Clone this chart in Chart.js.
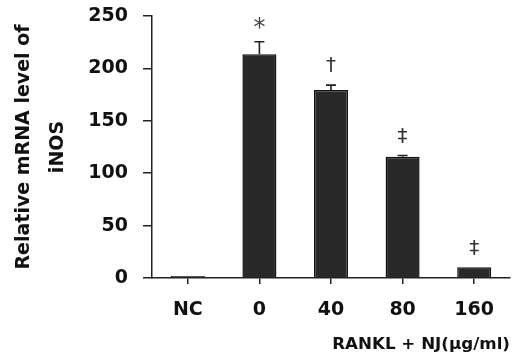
<!DOCTYPE html>
<html>
<head>
<meta charset="utf-8">
<script src="https://cdn.jsdelivr.net/npm/chart.js@4/dist/chart.umd.min.js"></script>
<style>
  html, body { margin: 0; padding: 0; background: #fff; }
  #wrap { width: 512px; height: 358px; }
</style>
</head>
<body>
<div id="wrap"><canvas id="c" width="512" height="358"></canvas></div>
<script>
// Relative iNOS mRNA expression under RANKL with increasing NJ doses
const categories = ['NC', '0', '40', '80', '160'];
const mrnaLevel = [2, 213.5, 179.5, 115.7, 10.2];
const errorUp = [0, 12, 4.5, 1.2, 0];
const significance = ['', '*', '†', '‡', '‡'];
const yTicks = [0, 50, 100, 150, 200, 250];

const axisColor = '#222';
const fontFamily = '"DejaVu Sans", Verdana, sans-serif';

// Upper error whiskers and significance marks above each bar
const errorBarPlugin = {
  id: 'errorBars',
  afterDatasetsDraw(chart) {
    const ctx = chart.ctx;
    const yScale = chart.scales.y;
    const meta = chart.getDatasetMeta(0);
    ctx.save();
    meta.data.forEach((bar, i) => {
      const top = yScale.getPixelForValue(mrnaLevel[i] + errorUp[i]);
      const base = yScale.getPixelForValue(mrnaLevel[i]);
      if (errorUp[i] > 0) {
        ctx.strokeStyle = '#222';
        ctx.lineWidth = 1.6;
        ctx.beginPath();
        ctx.moveTo(bar.x, base);
        ctx.lineTo(bar.x, top);
        ctx.moveTo(bar.x - 5, top);
        ctx.lineTo(bar.x + 5, top);
        ctx.stroke();
      }
      if (significance[i]) {
        const star = significance[i] === '*';
        ctx.fillStyle = star ? '#444' : '#333';
        ctx.font = (star ? '24px ' : '20px ') + fontFamily;
        ctx.textAlign = 'center';
        ctx.textBaseline = 'middle';
        ctx.fillText(significance[i], bar.x, top - (star ? 13 : 19));
      }
    });
    ctx.restore();
  }
};

new Chart(document.getElementById('c'), {
  type: 'bar',
  data: {
    labels: categories,
    datasets: [{
      data: mrnaLevel,
      backgroundColor: '#292929',
      borderColor: '#111',
      borderWidth: 1.5,
      categoryPercentage: 0.5,
      barPercentage: 0.95
    }]
  },
  options: {
    responsive: false,
    animation: false,
    layout: { padding: { top: 16, right: 2, bottom: 0, left: 0 } },
    plugins: { legend: { display: false }, tooltip: { enabled: false } },
    scales: {
      x: {
        grid: { offset: false, drawOnChartArea: false, drawTicks: true, tickLength: 6, color: axisColor, lineWidth: 1.5 },
        border: { display: true, color: axisColor, width: 1.5 },
        ticks: { color: '#111', font: { family: fontFamily, size: 19, weight: 'bold' }, padding: 15 },
        title: {
          display: true,
          text: 'RANKL + NJ(μg/ml)',
          align: 'end',
          color: '#111',
          font: { family: fontFamily, size: 16.7, weight: 'bold' },
          padding: { top: 0, bottom: 3 }
        },
        afterFit(scale) { scale.height = 80; }
      },
      y: {
        min: 0,
        max: 250,
        afterBuildTicks(scale) { scale.ticks = yTicks.map(v => ({ value: v })); },
        grid: { drawOnChartArea: false, drawTicks: true, tickLength: 9, color: axisColor, lineWidth: 1.5 },
        border: { display: true, color: axisColor, width: 1.5 },
        ticks: { color: '#111', font: { family: fontFamily, size: 19, weight: 'bold' }, padding: 15 },
        title: {
          display: true,
          text: ['Relative mRNA level of', 'iNOS'],
          color: '#111',
          font: { family: fontFamily, size: 19, weight: 'bold', lineHeight: 1.79 },
          padding: { top: 7, bottom: 0 }
        },
        afterFit(scale) {
          scale.width = 152;
          scale.paddingTop = 0;
          scale.paddingBottom = 0;
        }
      }
    }
  },
  plugins: [errorBarPlugin]
});
</script>
</body>
</html>
